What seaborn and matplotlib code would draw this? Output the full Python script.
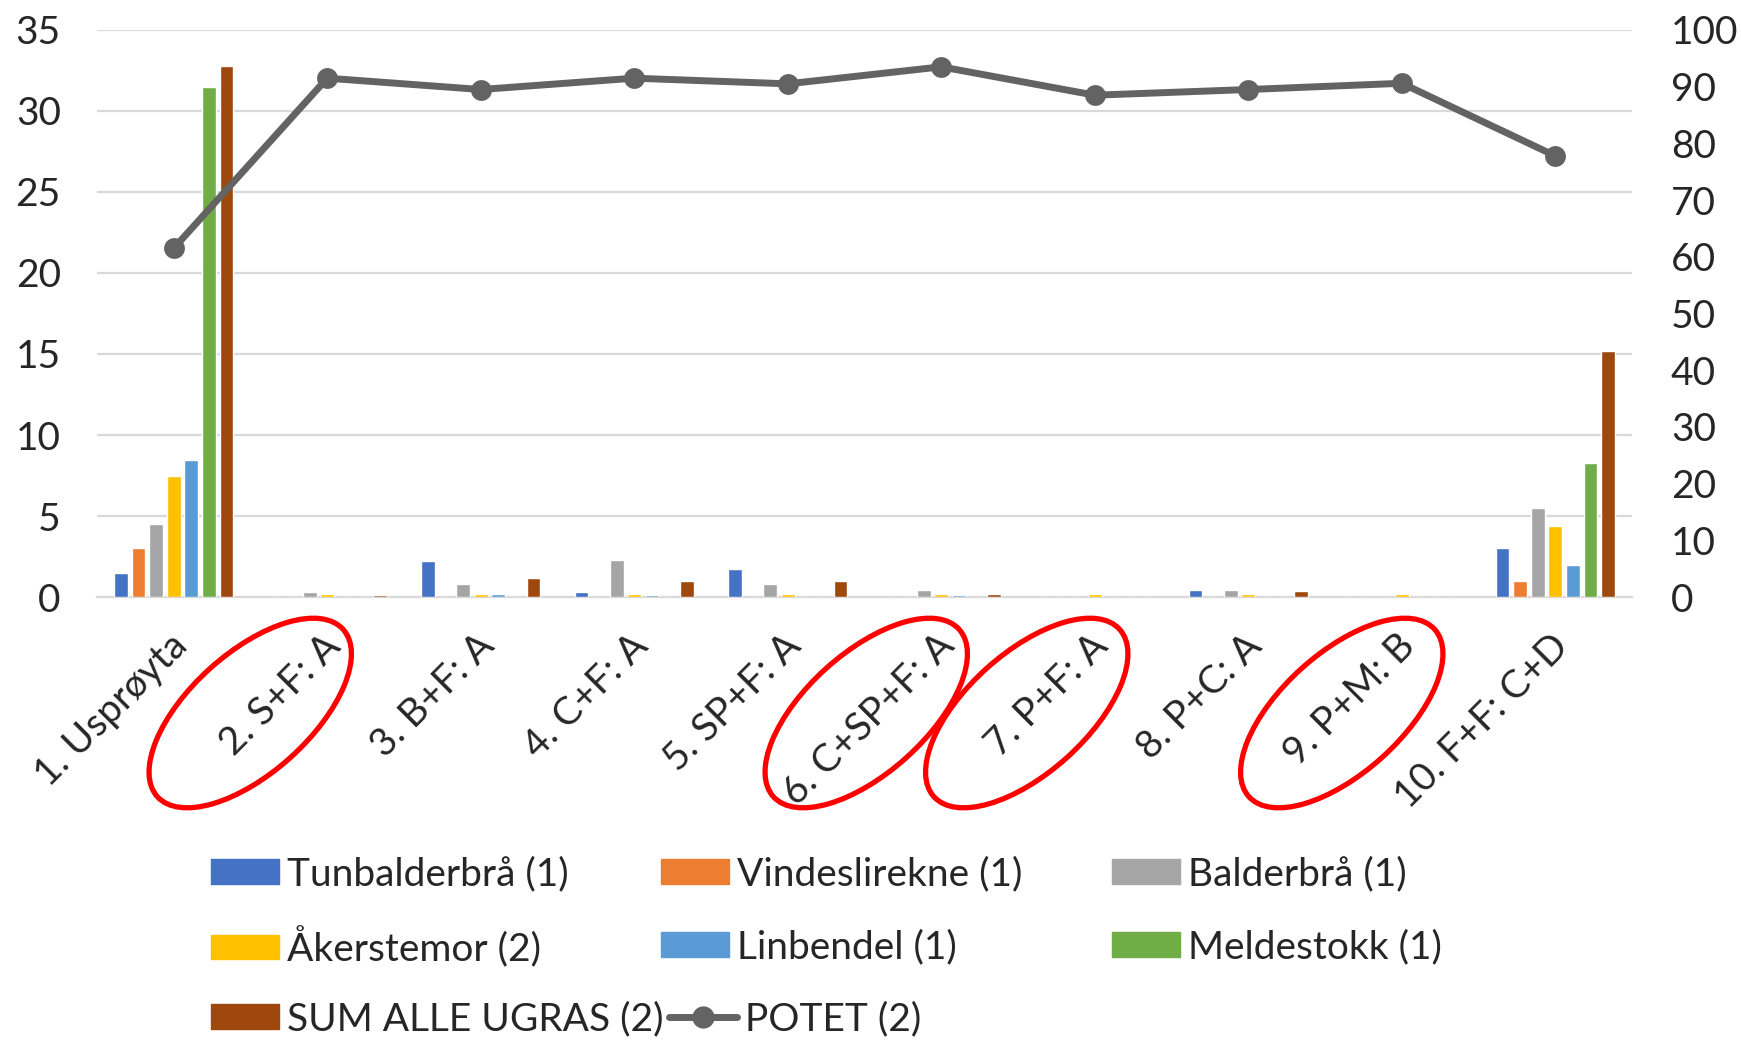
import numpy as np
import pandas as pd
import matplotlib
matplotlib.use('Agg')
import matplotlib.pyplot as plt
import matplotlib.transforms as mtransforms
from matplotlib.patches import Ellipse
import seaborn as sns

# behandlinger (x-akse)
behandling = ['1. Usprøyta', '2. S+F: A', '3. B+F: A', '4. C+F: A', '5. SP+F: A',
              '6. C+SP+F: A', '7. P+F: A', '8. P+C: A', '9. P+M: B', '10. F+F: C+D']

# ugras, venstre akse
tunbalderbra = [1.5, 0, 2.25, 0.3, 1.7, 0, 0, 0.45, 0, 3.0]
vindeslirekne = [3.0, 0, 0, 0, 0, 0, 0, 0, 0, 1.0]
balderbra = [4.5, 0.3, 0.8, 2.3, 0.8, 0.45, 0, 0.45, 0, 5.5]
akerstemor = [7.45, 0.2, 0.2, 0.2, 0.2, 0.2, 0.2, 0.2, 0.2, 4.4]
linbendel = [8.45, 0, 0.2, 0.1, 0, 0.1, 0, 0, 0, 2.0]
meldestokk = [31.5, 0, 0, 0, 0, 0, 0, 0, 0, 8.3]
sum_ugras = [32.8, 0.1, 1.2, 1.0, 1.0, 0.2, 0, 0.35, 0, 15.2]

# potet, høyre akse
potet = [61.5, 91.5, 89.5, 91.5, 90.5, 93.5, 88.5, 89.5, 90.6, 77.8]

arter = ['Tunbalderbrå (1)', 'Vindeslirekne (1)', 'Balderbrå (1)', 'Åkerstemor (2)',
         'Linbendel (1)', 'Meldestokk (1)', 'SUM ALLE UGRAS (2)']
farger = ['#4472C4', '#ED7D31', '#A5A5A5', '#FFC000', '#5B9BD5', '#70AD47', '#9E480E']
verdier = [tunbalderbra, vindeslirekne, balderbra, akerstemor, linbendel, meldestokk, sum_ugras]

# merket med rød ring: (indeks, forskyvning i px)
ringer = [(1, -77), (5, -75), (6, -68), (8, -60)]

rows = []
for art, vals in zip(arter, verdier):
    for b, v in zip(behandling, vals):
        rows.append([b, art, v])
df = pd.DataFrame(rows, columns=['Behandling', 'Art', 'Verdi'])
df_potet = pd.DataFrame({'x': np.arange(len(behandling)), 'Potet': potet})

sns.set_style('white')
plt.rcParams['font.family'] = ['Lato', 'DejaVu Sans']
fs = 28

fig = plt.figure(figsize=(17.41, 10.41), dpi=100)
ax = fig.add_subplot(111)
fig.subplots_adjust(left=0.0557, right=0.9374, top=0.9712, bottom=0.4265)

sns.barplot(data=df, x='Behandling', y='Verdi', hue='Art', hue_order=arter,
            palette=farger, order=behandling, width=0.8, gap=0.22,
            saturation=1, legend=False, ax=ax)

ax.set_ylim(0, 35)
ax.set_yticks(np.arange(0, 36, 5))
ax.set_xlim(-0.5, len(behandling) - 0.5)
ax.yaxis.grid(True, color='#D9D9D9', linewidth=1.6)
ax.set_axisbelow(True)
ax.set_xlabel('')
ax.set_ylabel('')
for s in ['left', 'right', 'top']:
    ax.spines[s].set_visible(False)
ax.spines['bottom'].set_color('#D9D9D9')
ax.spines['bottom'].set_linewidth(1.6)
ax.spines['bottom'].set_zorder(0.6)
ax.tick_params(axis='y', length=0, labelsize=fs, pad=26)
ax.tick_params(axis='x', which='major', length=0, labelsize=fs, pad=22)
ax.set_xticks(np.arange(-0.5, len(behandling), 1), minor=True)
ax.tick_params(axis='x', which='minor', length=12, width=1.6, color='#D9D9D9')
ax.set_xticks(np.arange(len(behandling)))
ax.set_xticklabels(behandling, rotation=45, ha='right', rotation_mode='anchor')
shift = mtransforms.ScaledTranslation(-5 / 100, 0, fig.dpi_scale_trans)
for lbl in ax.get_xticklabels():
    lbl.set_transform(lbl.get_transform() + shift)

ax2 = ax.twinx()
sns.lineplot(data=df_potet, x='x', y='Potet', color='#636363', linewidth=5,
             marker='o', markersize=15, markeredgewidth=0, ax=ax2)
ax2.set_ylim(0, 100)
ax2.set_yticks(np.arange(0, 101, 10))
ax2.set_ylabel('')
ax2.set_xlabel('')
for s in ['left', 'right', 'top', 'bottom']:
    ax2.spines[s].set_visible(False)
ax2.tick_params(axis='y', length=0, labelsize=fs, pad=28)
ax2.set_xlim(-0.5, len(behandling) - 0.5)

# legend: en oppføring per plass, slik at radene står likt
handles = [plt.Rectangle((0, 0), 1, 1, color=c) for c in farger]
line_h = plt.Line2D([], [], color='#636363', linewidth=5, marker='o', markersize=15)
poster = [(handles[0], arter[0]), (handles[1], arter[1]), (handles[2], arter[2]),
          (handles[3], arter[3]), (handles[4], arter[4]), (handles[5], arter[5]),
          (handles[6], arter[6]), (line_h, 'POTET (2)')]
kol_x = [211, 661, 1112]
rad_y = [874, 947, 1019]
for k, (h, l) in enumerate(poster):
    xpx = kol_x[k % 3] + (8 if k == 7 else 0)
    ypx = rad_y[k // 3]
    leg = fig.legend([h], [l], loc='center left', bbox_to_anchor=(xpx / 1741, 1 - ypx / 1041),
                     frameon=False, fontsize=fs, handlelength=1.75, handleheight=0.6,
                     handletextpad=0.2, borderpad=0, borderaxespad=0)

# røde ringer rundt utvalgte behandlinger
for i, dx in ringer:
    xc = ax.transData.transform((i, 0))[0] + dx
    yc = 1041 - 713
    fig.add_artist(Ellipse((xc / 100, yc / 100), 2.5, 1.2, angle=42, fill=False,
                           edgecolor='#FF0000', linewidth=3.8,
                           transform=fig.dpi_scale_trans))

fig.savefig('out.png', dpi=100)
